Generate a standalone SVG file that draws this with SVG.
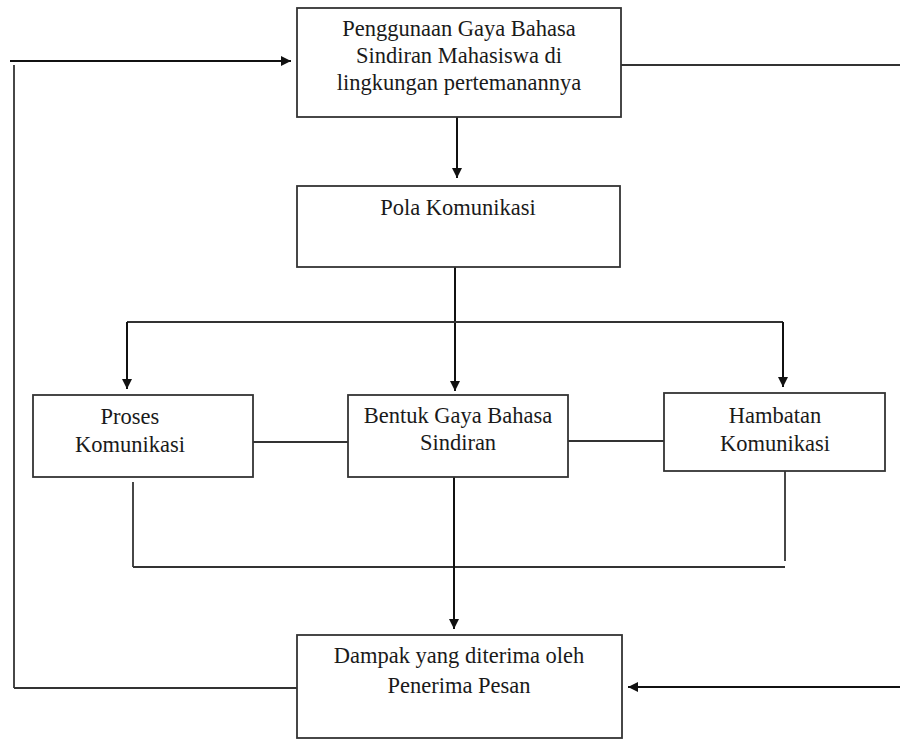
<svg xmlns="http://www.w3.org/2000/svg" width="900" height="740" viewBox="0 0 900 740">
<style>
.box{fill:#fff;stroke:#333;stroke-width:1.8}
.ln{fill:none;stroke:#333;stroke-width:1.8}
.ar{fill:none;stroke:#111;stroke-width:2;marker-end:url(#ah)}
.t{font-family:'Liberation Serif','Times New Roman',Times,serif;font-size:22.5px;fill:#1a1a1a;text-anchor:middle}
</style>
<defs>
<marker id="ah" viewBox="0 0 10 10" refX="10" refY="5" markerWidth="10" markerHeight="10" markerUnits="userSpaceOnUse" orient="auto">
<path d="M0,0 L10,5 L0,10 z" fill="#111"/>
</marker>
</defs>
<rect width="900" height="740" fill="#fff"/>
<g id="connectors">
<line class="ar" x1="10" y1="61" x2="291" y2="61"/>
<line class="ln" x1="14" y1="65" x2="14" y2="688"/>
<line class="ln" x1="14" y1="688" x2="298" y2="688"/>
<line class="ln" x1="621" y1="65" x2="900" y2="65"/>
<line class="ar" x1="457" y1="117" x2="457" y2="178"/>
<line class="ar" x1="455" y1="267" x2="455" y2="391"/>
<line class="ln" x1="127" y1="322" x2="783" y2="322"/>
<line class="ar" x1="127" y1="322" x2="127" y2="389"/>
<line class="ar" x1="783" y1="322" x2="783" y2="387"/>
<line class="ln" x1="253" y1="442" x2="348" y2="442"/>
<line class="ln" x1="568" y1="441" x2="664" y2="441"/>
<line class="ln" x1="133" y1="482" x2="133" y2="567"/>
<line class="ln" x1="133" y1="567" x2="785" y2="567"/>
<line class="ln" x1="785" y1="471" x2="785" y2="561"/>
<line class="ar" x1="454" y1="477" x2="454" y2="629"/>
<line class="ar" x1="900" y1="687" x2="628" y2="687"/>
</g>
<g id="node-penggunaan">
<rect class="box" x="297" y="8" width="324" height="109"/>
<text class="t" x="459" y="36">Penggunaan Gaya Bahasa</text>
<text class="t" x="459" y="63">Sindiran Mahasiswa di</text>
<text class="t" x="459" y="90">lingkungan pertemanannya</text>
</g>
<g id="node-pola">
<rect class="box" x="297" y="186" width="323" height="81"/>
<text class="t" x="458" y="215">Pola Komunikasi</text>
</g>
<g id="node-proses">
<rect class="box" x="33" y="395" width="220" height="82"/>
<text class="t" x="130" y="424">Proses</text>
<text class="t" x="130" y="452">Komunikasi</text>
</g>
<g id="node-bentuk">
<rect class="box" x="348" y="395" width="220" height="82"/>
<text class="t" x="458" y="423">Bentuk Gaya Bahasa</text>
<text class="t" x="458" y="450">Sindiran</text>
</g>
<g id="node-hambatan">
<rect class="box" x="664" y="393" width="221" height="78"/>
<text class="t" x="775" y="423">Hambatan</text>
<text class="t" x="775" y="451">Komunikasi</text>
</g>
<g id="node-dampak">
<rect class="box" x="297" y="635" width="325" height="103"/>
<text class="t" x="459" y="663">Dampak yang diterima oleh</text>
<text class="t" x="459" y="693">Penerima Pesan</text>
</g>
</svg>
